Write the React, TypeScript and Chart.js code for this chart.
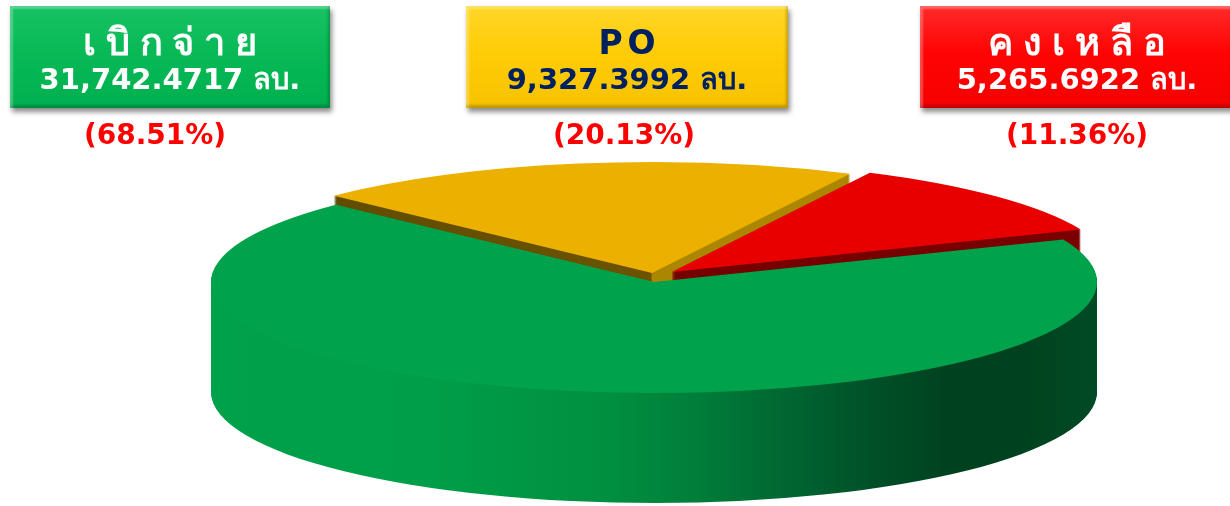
import React, { useEffect, useRef } from "react";
import { Chart, registerables } from "chart.js";

Chart.register(...registerables);

// ---- data ----
const categories = ["เบิกจ่าย", "PO", "คงเหลือ"];
const values = [31742.4717, 9327.3992, 5265.6922];
const unit = "ลบ.";

// ---- styles ----
const topColors = ["#00a34b", "#ecb100", "#e80000"];
const boxBg = [
  "linear-gradient(180deg, #17c263 0%, #08b956 45%, #00b050 100%)",
  "linear-gradient(180deg, #ffd628 0%, #ffcc08 45%, #f7c300 100%)",
  "linear-gradient(180deg, #ff2a2a 0%, #ff0404 45%, #f50000 100%)",
];
const boxText = ["#ffffff", "#002060", "#ffffff"];
const boxLeft = [10, 466, 920];
const boxWidth = [320, 322, 314];
const titleSize = [38, 33, 38];
const titleSpacing = ["0.26em", "0.15em", "0.26em"];
const pctCenter = [155, 624, 1077];

// 3D pie geometry (screen)
const CX = 654;
const CY = 282;
const RX = 443;
const RY = 111;
const DEPTH = 110;
const LIFT = 6;
const explode = [0, 12, 24];
const drawOrder = [1, 2, 0];

const FONT = '"DejaVu Sans", Tahoma, Verdana, sans-serif';

const total = values.reduce((a, b) => a + b, 0);
const fmt = new Intl.NumberFormat("en-US", {
  minimumFractionDigits: 4,
  maximumFractionDigits: 4,
});

function sideFill(ctx: CanvasRenderingContext2D, i: number, x: number, R: number) {
  const g = ctx.createLinearGradient(x - R, 0, x + R, 0);
  if (i === 0) {
    g.addColorStop(0, "#00a14b");
    g.addColorStop(0.25, "#009e48");
    g.addColorStop(0.45, "#008f40");
    g.addColorStop(0.55, "#007d39");
    g.addColorStop(0.65, "#006631");
    g.addColorStop(0.75, "#004f27");
    g.addColorStop(0.83, "#004220");
    g.addColorStop(0.92, "#00421f");
    g.addColorStop(1, "#004a25");
  } else if (i === 1) {
    g.addColorStop(0, "#5e4900");
    g.addColorStop(0.499, "#6b5300");
    g.addColorStop(0.5, "#ab8600");
    g.addColorStop(1, "#ab8600");
  } else {
    g.addColorStop(0, "#6e0000");
    g.addColorStop(1, "#7a0000");
  }
  return g;
}

const pie3d = {
  id: "pie3d",
  beforeDatasetsDraw(chart: any) {
    const ctx: CanvasRenderingContext2D = chart.ctx;
    const arcs = chart.getDatasetMeta(0).data;
    for (const i of drawOrder) {
      const el = arcs[i];
      const p = el.getProps(["x", "y", "outerRadius", "startAngle", "endAngle"], true);
      const R = p.outerRadius;
      const sx = RX / R;
      const sy = RY / R;
      const mid = (p.startAngle + p.endAngle) / 2;
      const ex = Math.cos(mid) * explode[i];
      const ey = Math.sin(mid) * explode[i] * (RY / RX) - (explode[i] ? LIFT : 0);
      const orig = el.options;
      const fill = sideFill(ctx, i, p.x, R);
      el.options = { ...orig, backgroundColor: fill, borderWidth: 0 };
      for (let d = DEPTH; d >= 1; d--) {
        ctx.save();
        ctx.translate(CX + ex, CY + ey + d);
        ctx.scale(sx, sy);
        ctx.translate(-p.x, -p.y);
        el.draw(ctx);
        ctx.restore();
      }
      el.options = { ...orig, borderWidth: 0 };
      ctx.save();
      ctx.translate(CX + ex, CY + ey);
      ctx.scale(sx, sy);
      ctx.translate(-p.x, -p.y);
      el.draw(ctx);
      ctx.restore();
      el.options = orig;
    }
    return false;
  },
};

export default function App() {
  const ref = useRef<HTMLCanvasElement | null>(null);

  useEffect(() => {
    if (!ref.current) return;
    const chart = new Chart(ref.current, {
      type: "pie",
      data: {
        labels: categories,
        datasets: [
          {
            data: values,
            backgroundColor: topColors,
            borderWidth: 0,
          },
        ],
      },
      options: {
        animation: false,
        responsive: false,
        rotation: 67.5,
        events: [],
        plugins: {
          legend: { display: false },
          tooltip: { enabled: false },
        },
      },
      plugins: [pie3d as any],
    });
    return () => chart.destroy();
  }, []);

  return (
    <div
      style={{
        position: "absolute",
        left: 0,
        top: 0,
        width: 1230,
        height: 506,
        overflow: "hidden",
        background: "#ffffff",
        fontFamily: FONT,
      }}
    >
      <canvas
        ref={ref}
        width={1230}
        height={506}
        style={{ position: "absolute", left: 0, top: 0, width: 1230, height: 506 }}
      />
      {categories.map((c, i) => (
        <div
          key={"box" + i}
          style={{
            position: "absolute",
            left: boxLeft[i],
            top: 6,
            width: boxWidth[i],
            height: 102,
            background: boxBg[i],
            boxShadow:
              "inset 3px 3px 2px rgba(255,255,255,0.28), inset -2px -3px 3px rgba(0,0,0,0.22), 2px 4px 5px rgba(0,0,0,0.45)",
            color: boxText[i],
            fontWeight: "bold",
            textAlign: "center",
            boxSizing: "border-box",
            paddingTop: 18,
          }}
        >
          <div
            style={{
              fontSize: titleSize[i],
              lineHeight: "37px",
              letterSpacing: titleSpacing[i],
              paddingLeft: titleSpacing[i],
              whiteSpace: "nowrap",
            }}
          >
            {c}
          </div>
          <div style={{ fontSize: 29, lineHeight: "37px", whiteSpace: "nowrap" }}>
            {fmt.format(values[i])} {unit}
          </div>
        </div>
      ))}
      {values.map((v, i) => (
        <div
          key={"pct" + i}
          style={{
            position: "absolute",
            left: pctCenter[i] - 100,
            width: 200,
            top: 118,
            textAlign: "center",
            color: "#ff0000",
            fontWeight: "bold",
            fontSize: 28,
            lineHeight: "34px",
          }}
        >
          ({((v / total) * 100).toFixed(2)}%)
        </div>
      ))}
    </div>
  );
}
